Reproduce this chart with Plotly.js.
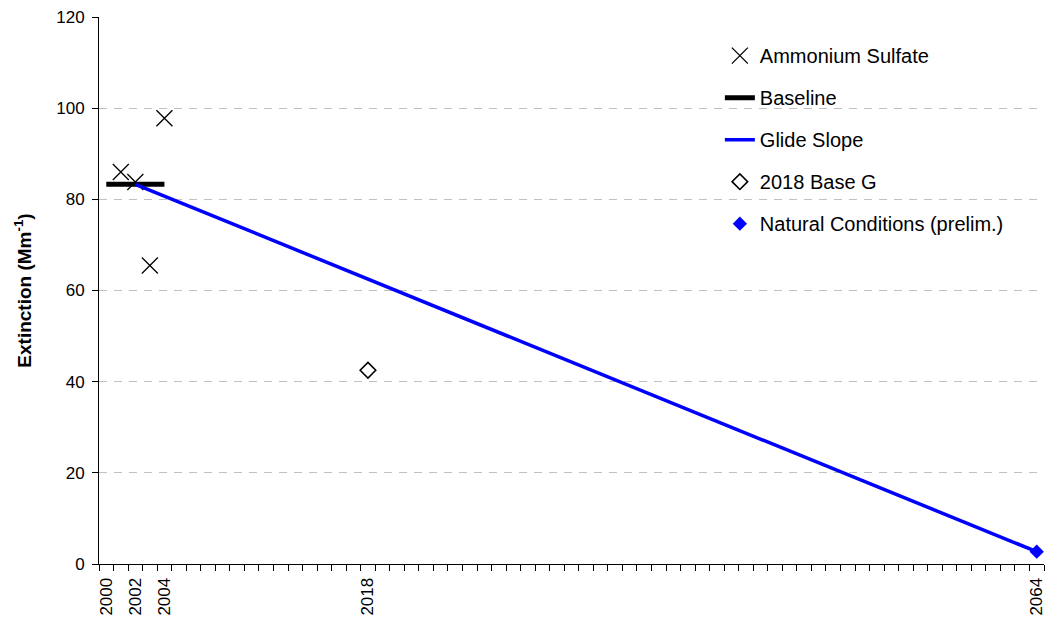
<!DOCTYPE html>
<html>
<head>
<meta charset="utf-8">
<script src="https://cdn.plot.ly/plotly-3.0.1.min.js"></script>
<style>html,body{margin:0;padding:0;background:#fff}#chart{width:1045px;height:626px}</style>
</head>
<body>
<div id="chart"></div>
<script>
// Data
const sulfateYears = [2001, 2002, 2003, 2004];
const sulfateValues = [86.0, 83.8, 65.5, 97.8];
const baselineYears = [2000, 2004];
const baselineValues = [83.3, 83.3];
const glideYears = [2002, 2064];
const glideValues = [83.3, 2.7];
const base2018Years = [2018];
const base2018Values = [42.5];
const naturalYears = [2064];
const naturalValues = [2.7];
const xTickYears = [2000, 2002, 2004, 2018, 2064];
const xTickLabels = ["2000", "2002", "2004", "2018", "2064"];

const FONT = "Liberation Sans, Arial, sans-serif";

const traces = [
  {x: sulfateYears, y: sulfateValues, name: "Ammonium Sulfate", type: "scatter", mode: "markers",
   legendgroup: "a",
   marker: {symbol: "x-thin-open", size: 16, color: "#000000", line: {width: 1.3, color: "#000000"}}},
  {x: baselineYears, y: baselineValues, name: "Baseline", type: "scatter", mode: "lines",
   legendgroup: "b",
   line: {color: "#000000", width: 5}},
  {x: glideYears, y: glideValues, name: "Glide Slope", type: "scatter", mode: "lines",
   legendgroup: "c",
   line: {color: "#0000ff", width: 3.5}},
  {x: base2018Years, y: base2018Values, name: "2018 Base G", type: "scatter", mode: "markers",
   legendgroup: "d",
   marker: {symbol: "diamond-open", size: 12, color: "#000000", line: {width: 1.6, color: "#000000"}}},
  {x: naturalYears, y: naturalValues, name: "Natural Conditions (prelim.)", type: "scatter", mode: "markers",
   legendgroup: "e",
   marker: {symbol: "diamond", size: 11, color: "#0000ff", line: {width: 0}}}
];

const layout = {
  width: 1045, height: 626,
  margin: {l: 99, r: 1, t: 17, b: 62},
  paper_bgcolor: "#ffffff", plot_bgcolor: "#ffffff",
  font: {family: FONT, size: 17, color: "#000000"},
  showlegend: true,
  legend: {x: 0.657, y: 0.965, xanchor: "left", yanchor: "top",
           font: {family: FONT, size: 20, color: "#000000"},
           bgcolor: "rgba(255,255,255,0)", tracegroupgap: 13, traceorder: "grouped"},
  xaxis: {
    range: [1999.5, 2064.5], showgrid: false, zeroline: false,
    showline: true, linecolor: "#000000", linewidth: 1,
    tickmode: "array", tickvals: xTickYears, ticktext: xTickLabels,
    tickangle: -90, ticks: "outside", ticklen: 6, tickcolor: "rgba(0,0,0,0)",
    ticklabelstandoff: 0, ticklabeloverflow: "allow",
    tickfont: {family: FONT, size: 17, color: "#000000"},
    minor: {tick0: 1999.5, dtick: 1, ticks: "outside", ticklen: 6, tickcolor: "#000000", tickwidth: 1, showgrid: false}
  },
  yaxis: {
    range: [0, 120], dtick: 20, tick0: 0, zeroline: false,
    showline: true, linecolor: "#000000", linewidth: 1,
    ticks: "outside", ticklen: 6, tickcolor: "#000000",
    showgrid: true, gridcolor: "#c0c0c0", gridwidth: 1, griddash: "8px,7px",
    ticklabelstandoff: 4,
    tickfont: {family: FONT, size: 17, color: "#000000"},
    title: {text: "Extinction (Mm<sup>-1</sup>)", standoff: 19,
            font: {family: FONT, size: 19, color: "#000000", weight: "bold"}}
  }
};

Plotly.newPlot("chart", traces, layout, {displayModeBar: false, staticPlot: true});
</script>
</body>
</html>
